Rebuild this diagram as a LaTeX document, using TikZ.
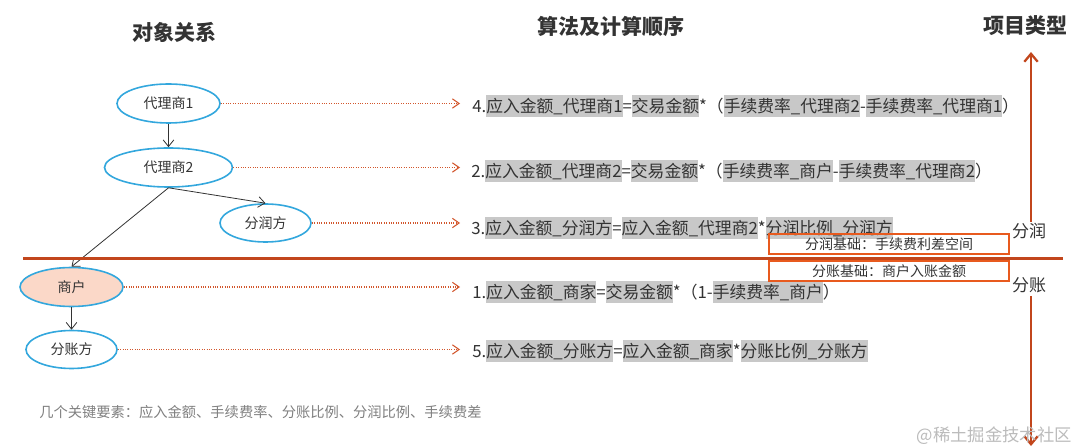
\documentclass[tikz,border=0pt]{standalone}
\usepackage{fontspec}
\setmainfont{Noto Sans CJK SC}
\usetikzlibrary{arrows.meta,shapes.geometric}
\definecolor{txt}{HTML}{333333}
\definecolor{ellblue}{HTML}{33A7DD}
\definecolor{salmon}{HTML}{FBD8C8}
\definecolor{dotred}{HTML}{D2562C}
\definecolor{linered}{HTML}{C2461C}
\definecolor{boxred}{HTML}{E85A1E}
\definecolor{hlgray}{HTML}{C8C8C8}
\definecolor{notegray}{HTML}{7F7F7F}
\definecolor{wmgray}{HTML}{BBBBBB}
\newcommand\hl[1]{{\setlength{\fboxsep}{0pt}\colorbox{hlgray}{\rule[-3.5pt]{0pt}{16.5pt}#1}}}
\begin{document}
\begin{tikzpicture}[x=0.75pt,y=-0.75pt,
 ent/.style={ellipse, draw=ellblue, line width=1.2pt, text=txt, font=\fontsize{10.5}{12}\selectfont, inner sep=0pt},
 rel/.style={draw=txt, line width=0.6pt, -{Straight Barb[length=5pt,width=8pt]}},
 calcarrow/.style={draw=dotred, densely dotted, line width=0.8pt, -{Straight Barb[length=5pt,width=7pt]}},
 formula/.style={anchor=west, inner sep=0pt, text=txt, font=\fontsize{12.6}{14}\selectfont},
 title/.style={text=txt, font=\fontsize{15.75}{18}\selectfont\bfseries, inner sep=0pt},
 basis/.style={draw=boxred, line width=1.5pt, text=txt, font=\fontsize{10.5}{12}\selectfont, minimum width=240*0.75pt, minimum height=20*0.75pt, inner sep=0pt},
 kind/.style={text=txt, font=\fontsize{12.75}{14}\selectfont, inner sep=0pt},
 axis/.style={draw=linered, line width=1.7pt, -{Straight Barb[length=6pt,width=10pt]}}
]
\useasboundingbox (0,0) rectangle (1080,448);
% titles
\node[title] (t1) at (174,32) {对象关系};
\node[title] (t2) at (611,26) {算法及计算顺序};
\node[title] (t3) at (1025,26) {项目类型};
% entities
\node[ent, minimum width=103*0.75pt, minimum height=39*0.75pt] (d1) at (168.5,103.5) {代理商1};
\node[ent, minimum width=128*0.75pt, minimum height=39*0.75pt] (d2) at (168.5,167.5) {代理商2};
\node[ent, minimum width=91*0.75pt, minimum height=38*0.75pt] (fr) at (265.5,223) {分润方};
\node[ent, fill=salmon, minimum width=103*0.75pt, minimum height=39*0.75pt] (sh) at (71.5,287) {商户};
\node[ent, minimum width=91*0.75pt, minimum height=38*0.75pt] (fz) at (71.5,349.5) {分账方};
% relations
\draw[rel] (d1.south) -- (d2.north);
\draw[rel] (d2.south) -- (fr.north);
\draw[rel] (d2.south) -- (sh.north);
\draw[rel] (sh.south) -- (fz.north);
% dotted arrows
\coordinate (tipx) at (460,0);
\draw[calcarrow] (d1.east) -- (d1.east -| tipx);
\draw[calcarrow] (d2.east) -- (d2.east -| tipx);
\draw[calcarrow] (fr.east) -- (fr.east -| tipx);
\draw[calcarrow] (sh.east) -- (sh.east -| tipx);
\draw[calcarrow] (fz.east) -- (fz.east -| tipx);
% formulas
\node[formula] (f4) at (472,106) {4.\hl{应入金额\_代理商1}=\hl{交易金额}*（\hl{手续费率\_代理商2}-\hl{手续费率\_代理商1}）};
\node[formula] (f2) at (471,171) {2.\hl{应入金额\_代理商2}=\hl{交易金额}*（\hl{手续费率\_商户}-\hl{手续费率\_代理商2}）};
\node[formula] (f3) at (471,228) {3.\hl{应入金额\_分润方}=\hl{应入金额\_代理商2}*\hl{分润比例\_分润方}};
\node[formula] (f1) at (472,292) {1.\hl{应入金额\_商家}=\hl{交易金额}*（1-\hl{手续费率\_商户}）};
\node[formula] (f5) at (472,351) {5.\hl{应入金额\_分账方}=\hl{应入金额\_商家}*\hl{分账比例\_分账方}};
% separator
\coordinate (sepL) at (23,258.5);
\coordinate (sepR) at (1063,258.5);
\draw[draw=linered, line width=1.7pt] (sepL) -- (sepR);
% axis
\coordinate (upS) at (1031,222);
\coordinate (upE) at (1031,52);
\coordinate (dnS) at (1031,296);
\coordinate (dnE) at (1031,446);
\draw[axis] (upS) -- (upE);
\draw[axis] (dnS) -- (dnE);
\node[kind] (kfr) at (1029,231) {分润};
\node[kind] (kfz) at (1029,285) {分账};
% basis boxes
\node[basis] (b1) at (889,244) {分润基础：手续费利差空间};
\node[basis] (b2) at (889,271.5) {分账基础：商户入账金额};
% note
\node[anchor=west, inner sep=0pt, text=notegray, font=\fontsize{10.7}{12}\selectfont] (note) at (39,412) {几个关键要素：应入金额、手续费率、分账比例、分润比例、手续费差};
% watermark
\node[anchor=east, inner sep=0pt, text=wmgray, font=\fontsize{13}{15}\selectfont] (wm) at (1072,436) {@稀土掘金技术社区};
\end{tikzpicture}
\end{document}
